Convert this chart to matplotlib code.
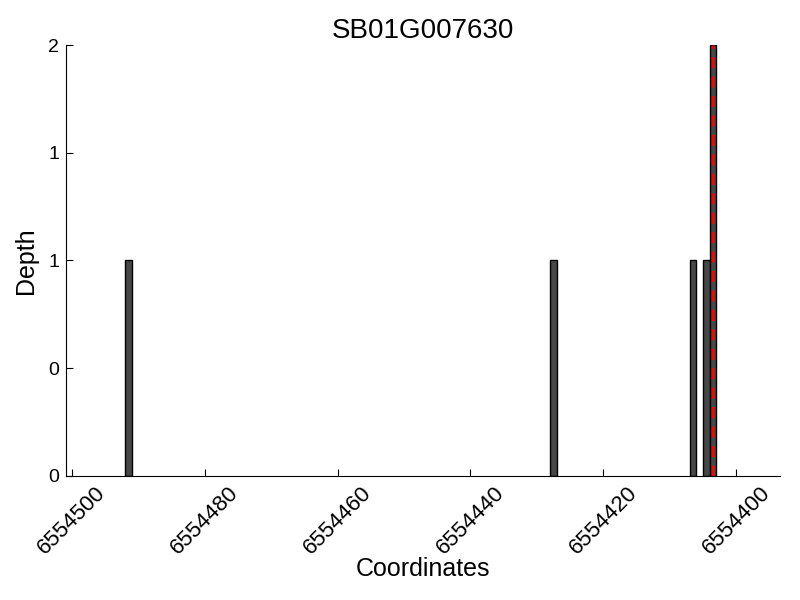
import matplotlib
matplotlib.use("Agg")
import matplotlib.pyplot as plt
from matplotlib.ticker import FormatStrFormatter

plt.rcParams['font.family'] = ['Liberation Sans', 'DejaVu Sans']

# read data
positions = [6554491, 6554427, 6554406, 6554404, 6554403]
depths = [1, 1, 1, 1, 2]
marker_pos = 6554403.5
gene = "SB01G007630"
x_ticks = [6554500, 6554480, 6554460, 6554440, 6554420, 6554400]
y_ticks = [0, 0.5, 1, 1.5, 2]

fig = plt.figure(figsize=(8, 6), dpi=100)
ax = fig.add_axes([0.0825, 0.207, 0.8925, 0.718])

ax.bar(positions, depths, width=1, align='edge', color='#474747',
       edgecolor='black', linewidth=1)
ax.axvline(marker_pos, color='red', linestyle='--', linewidth=2, dashes=(4, 3))

ax.set_xlim(6554500.9, 6554393.4)
ax.set_ylim(0, 2)
ax.set_xticks(x_ticks)
ax.set_xticklabels([str(t) for t in x_ticks], rotation=45, fontsize=16)
ax.set_yticks(y_ticks)
ax.yaxis.set_major_formatter(FormatStrFormatter('%d'))
ax.tick_params(axis='y', labelsize=14)
ax.tick_params(direction='in', length=5, width=0.8, pad=5)

ax.spines['top'].set_visible(False)
ax.spines['right'].set_visible(False)

ax.set_title(gene, fontsize=20, pad=5)
ax.set_xlabel("Coordinates", fontsize=18, labelpad=-1)
ax.set_ylabel("Depth", fontsize=18, labelpad=7)

fig.savefig("out.png", dpi=100)
